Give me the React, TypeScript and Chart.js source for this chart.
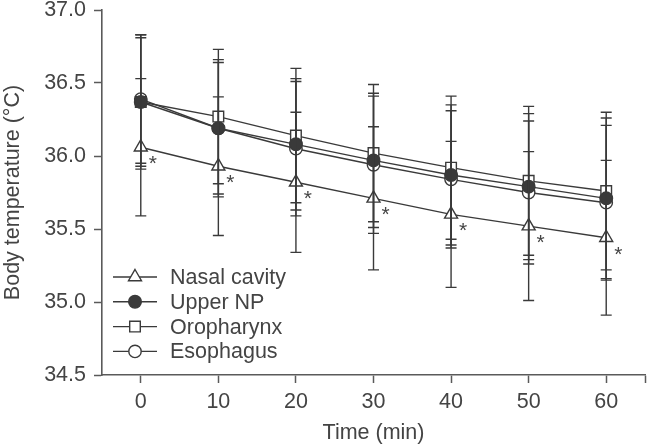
import React, { useEffect, useRef } from 'react';
import { Chart, registerables } from 'chart.js';

Chart.register(...registerables);

// ---- data ----
const times = [0, 10, 20, 30, 40, 50, 60];
const xTickValues = [0, 10, 20, 30, 40, 50, 60];
const yTickValues = [34.5, 35.0, 35.5, 36.0, 36.5, 37.0];

const seriesNames = ['Nasal cavity', 'Upper NP', 'Oropharynx', 'Esophagus'];

const nasalMean = [36.06, 35.93, 35.82, 35.71, 35.6, 35.52, 35.44];
const nasalSD = [0.47, 0.475, 0.48, 0.49, 0.5, 0.51, 0.53];

const upperNPMean = [36.37, 36.19, 36.08, 35.97, 35.87, 35.79, 35.71];
const upperNPSD = [0.44, 0.45, 0.45, 0.46, 0.48, 0.5, 0.55];

const oroMean = [36.37, 36.27, 36.14, 36.02, 35.92, 35.83, 35.76];
const oroSD = [0.46, 0.46, 0.46, 0.47, 0.49, 0.51, 0.54];

const esoMean = [36.39, 36.19, 36.05, 35.94, 35.84, 35.75, 35.68];
const esoSD = [0.44, 0.47, 0.46, 0.47, 0.47, 0.49, 0.53];

// significance markers (asterisk) for nasal cavity
const nasalSignificant = [true, true, true, true, true, true, true];

const means = [nasalMean, upperNPMean, oroMean, esoMean];
const sds = [nasalSD, upperNPSD, oroSD, esoSD];

// ---- styles ----
const INK = '#3a3a3a';
const AXIS = '#5a5a5a';
const TEXT = '#444444';
const FONT_FAMILY = '"Liberation Sans", Arial, Helvetica, sans-serif';
const FONT_SIZE = 21.5;

const markerStyles = [
  { style: 'triangle', radius: 7.5, fill: '#ffffff' },
  { style: 'circle', radius: 6.3, fill: INK },
  { style: 'rect', radius: 7.5, fill: '#ffffff' },
  { style: 'circle', radius: 6.2, fill: '#ffffff' },
];

function drawMarker(ctx: CanvasRenderingContext2D, style: string, r: number, x: number, y: number, fill: string) {
  ctx.save();
  ctx.beginPath();
  if (style === 'triangle') {
    let rad = 0;
    ctx.moveTo(x + Math.sin(rad) * r, y - Math.cos(rad) * r);
    rad += (2 * Math.PI) / 3;
    ctx.lineTo(x + Math.sin(rad) * r, y - Math.cos(rad) * r);
    rad += (2 * Math.PI) / 3;
    ctx.lineTo(x + Math.sin(rad) * r, y - Math.cos(rad) * r);
    ctx.closePath();
  } else if (style === 'rect') {
    const s = Math.SQRT1_2 * r;
    ctx.rect(x - s, y - s, 2 * s, 2 * s);
  } else {
    ctx.arc(x, y, r, 0, Math.PI * 2);
  }
  ctx.fillStyle = fill;
  ctx.fill();
  ctx.lineWidth = 1.4;
  ctx.strokeStyle = INK;
  ctx.stroke();
  ctx.restore();
}

const errorBarPlugin = {
  id: 'errorBars',
  afterDatasetsDraw(chart: any) {
    const ctx: CanvasRenderingContext2D = chart.ctx;
    const xs = chart.scales.x;
    const ys = chart.scales.y;
    ctx.save();
    ctx.strokeStyle = INK;
    ctx.lineWidth = 1.4;
    const cap = 5.5;
    for (let s = 0; s < means.length; s++) {
      for (let i = 0; i < times.length; i++) {
        const x = xs.getPixelForValue(times[i]);
        const yT = ys.getPixelForValue(means[s][i] + sds[s][i]);
        const yB = ys.getPixelForValue(means[s][i] - sds[s][i]);
        ctx.beginPath();
        ctx.moveTo(x, yT);
        ctx.lineTo(x, yB);
        ctx.moveTo(x - cap, yT);
        ctx.lineTo(x + cap, yT);
        ctx.moveTo(x - cap, yB);
        ctx.lineTo(x + cap, yB);
        ctx.stroke();
      }
    }
    // asterisks
    ctx.fillStyle = TEXT;
    ctx.font = `21px ${FONT_FAMILY}`;
    ctx.textAlign = 'center';
    ctx.textBaseline = 'middle';
    for (let i = 0; i < times.length; i++) {
      if (!nasalSignificant[i]) continue;
      const x = xs.getPixelForValue(times[i]);
      const y = ys.getPixelForValue(nasalMean[i]);
      ctx.fillText('*', x + 12, y + 17);
    }
    ctx.restore();
  },
};

const legendPlugin = {
  id: 'customLegend',
  afterDraw(chart: any) {
    const ctx: CanvasRenderingContext2D = chart.ctx;
    const area = chart.chartArea;
    const x0 = area.left + 11;
    const x1 = area.left + 55;
    const xm = (x0 + x1) / 2;
    const xt = area.left + 68;
    const yStart = area.bottom - 98;
    const step = 24.8;
    ctx.save();
    for (let s = 0; s < seriesNames.length; s++) {
      const y = yStart + s * step;
      ctx.beginPath();
      ctx.strokeStyle = INK;
      ctx.lineWidth = 1.4;
      ctx.moveTo(x0, y);
      ctx.lineTo(x1, y);
      ctx.stroke();
      const m = markerStyles[s];
      drawMarker(ctx, m.style, m.radius, xm, y, m.fill);
      ctx.fillStyle = TEXT;
      ctx.font = `${FONT_SIZE}px ${FONT_FAMILY}`;
      ctx.textAlign = 'left';
      ctx.textBaseline = 'middle';
      ctx.fillText(seriesNames[s], xt, y + 1);
    }
    ctx.restore();
  },
};

export default function App() {
  const canvasRef = useRef<HTMLCanvasElement | null>(null);

  useEffect(() => {
    const canvas = canvasRef.current;
    if (!canvas) return;
    const datasets = seriesNames.map((name, s) => ({
      label: name,
      data: times.map((t, i) => ({ x: t, y: means[s][i] })),
      borderColor: INK,
      borderWidth: 1.4,
      backgroundColor: markerStyles[s].fill,
      pointStyle: markerStyles[s].style as any,
      pointRadius: markerStyles[s].radius,
      pointBorderWidth: 1.4,
      pointBorderColor: INK,
      pointBackgroundColor: markerStyles[s].fill,
      fill: false,
      tension: 0,
    }));

    const chart = new Chart(canvas, {
      type: 'line',
      data: { datasets },
      plugins: [errorBarPlugin, legendPlugin],
      options: {
        responsive: false,
        devicePixelRatio: 1,
        animation: false,
        layout: { autoPadding: false, padding: { top: 10, right: 2, left: 0, bottom: 0 } },
        plugins: {
          legend: { display: false },
          tooltip: { enabled: false },
        },
        scales: {
          x: {
            type: 'linear',
            min: -5,
            max: 65,
            afterBuildTicks(scale: any) {
              scale.ticks = [...xTickValues, 65].map((v) => ({ value: v }));
            },
            afterFit(scale: any) {
              scale.height = 72;
              scale.paddingLeft = 0;
              scale.paddingRight = 0;
            },
            ticks: {
              color: TEXT,
              font: { family: FONT_FAMILY, size: FONT_SIZE },
              padding: 6,
              maxRotation: 0,
              autoSkip: false,
              callback: (v: any) => (v === 65 ? '' : String(v)),
            },
            grid: {
              display: true,
              drawOnChartArea: false,
              drawTicks: true,
              tickLength: 8,
              tickWidth: 1.5,
              tickColor: AXIS,
            },
            border: { display: true, color: AXIS, width: 1.6 },
            title: {
              display: true,
              text: 'Time (min)',
              color: TEXT,
              font: { family: FONT_FAMILY, size: FONT_SIZE },
              padding: { top: 0, bottom: 1 },
            },
          },
          y: {
            type: 'linear',
            min: 34.5,
            max: 37.0,
            afterBuildTicks(scale: any) {
              scale.ticks = yTickValues.map((v) => ({ value: v }));
            },
            afterFit(scale: any) {
              scale.width = 102;
              scale.paddingTop = 0;
              scale.paddingBottom = 0;
            },
            ticks: {
              color: TEXT,
              font: { family: FONT_FAMILY, size: FONT_SIZE },
              padding: 8,
              autoSkip: false,
              callback: (v: any) => Number(v).toFixed(1),
            },
            grid: {
              display: true,
              drawOnChartArea: false,
              drawTicks: true,
              tickLength: 8,
              tickWidth: 1.5,
              tickColor: AXIS,
            },
            border: { display: true, color: AXIS, width: 1.6 },
            title: {
              display: true,
              text: 'Body temperature (\u00B0C)',
              color: TEXT,
              font: { family: FONT_FAMILY, size: FONT_SIZE },
              padding: { top: 0, bottom: 0 },
            },
          },
        },
      },
    });
    return () => chart.destroy();
  }, []);

  return (
    <div style={{ position: 'fixed', left: 0, top: 0, width: 647, height: 447, background: '#ffffff' }}>
      <canvas ref={canvasRef} width={647} height={447} style={{ display: 'block', width: 647, height: 447 }} />
    </div>
  );
}
